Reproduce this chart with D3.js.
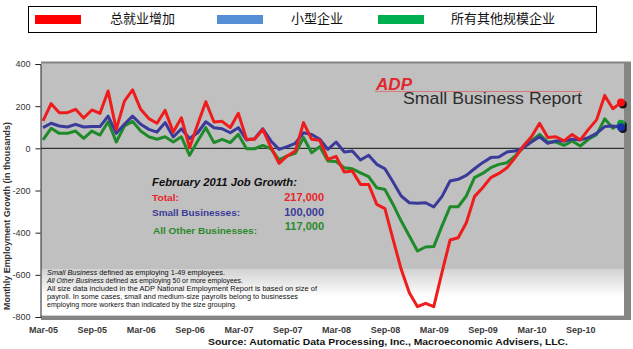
<!DOCTYPE html>
<html>
<head>
<meta charset="utf-8">
<script src="https://cdn.jsdelivr.net/npm/d3@7"></script>
<style>
  html, body { margin: 0; padding: 0; background: #fff; }
  svg { display: block; font-family: Arial, "Liberation Sans", sans-serif; }
</style>
</head>
<body>
<svg id="chart" width="633" height="349"></svg>
<script>
// Monthly employment change (thousands), Mar-2005 .. Feb-2011
const months = d3.range(72);
const totalGrowth = [130,212,169,169,185,144,182,166,272,90,224,277,185,141,119,180,77,145,3,114,221,125,128,98,166,43,43,90,5,-71,-36,-13,122,43,38,-52,-38,-112,-108,-171,-171,-266,-286,-432,-574,-685,-751,-735,-751,-590,-435,-424,-353,-229,-187,-139,-119,-92,-44,11,55,119,51,55,35,66,40,90,135,251,188,217];
const smallBiz = [98,119,106,101,114,101,103,103,153,71,114,153,114,90,77,122,54,93,47,74,126,98,93,74,98,40,46,93,35,-5,8,24,74,66,43,-5,30,-17,-13,-55,-33,-76,-97,-160,-226,-258,-261,-258,-278,-229,-155,-147,-128,-97,-68,-44,-41,-17,-13,3,30,55,24,35,35,43,40,51,71,103,106,100];
const otherBiz = [40,95,71,71,82,47,82,63,126,30,106,128,82,55,43,55,30,55,-33,35,98,27,43,27,66,-2,-2,14,-2,-55,-36,-24,51,-21,8,-60,-63,-92,-97,-116,-134,-187,-195,-266,-345,-416,-487,-468,-466,-369,-277,-277,-226,-139,-119,-92,-76,-68,-36,3,35,66,30,30,14,35,11,43,65,140,95,117];
const xTickIdx = [0,6,12,18,24,30,36,42,48,54,60,66];
const xTickLabels = ["Mar-05","Sep-05","Mar-06","Sep-06","Mar-07","Sep-07","Mar-08","Sep-08","Mar-09","Sep-09","Mar-10","Sep-10"];
const yTicks = [-800,-600,-400,-200,0,200,400];
const seriesNames = ["总就业增加","小型企业","所有其他规模企业"];
const headline = ["217,000","100,000","117,000"];

const svg = d3.select("#chart");
const x = d3.scaleLinear().domain([0, 71]).range([43, 621]);
const y = d3.scaleLinear().domain([-800, 400]).range([317, 64]);

// ---- legend box ----
const legend = svg.append("g");
legend.append("rect").attr("x", 28.5).attr("y", 6.5).attr("width", 568).attr("height", 26)
  .attr("fill", "#fff").attr("stroke", "#000").attr("stroke-width", 1);
const legSwatch = ["#ff0000", "#558ed5", "#00b050"];
const legX = [35, 217, 378];
const legTextX = [110, 291, 451];
seriesNames.forEach((n, i) => {
  legend.append("rect").attr("x", legX[i]).attr("y", 15).attr("width", 46).attr("height", 9).attr("fill", legSwatch[i]);
  legend.append("text").attr("x", legTextX[i]).attr("y", 19.5).attr("dominant-baseline", "middle")
    .attr("font-family", "'Noto Sans CJK SC', sans-serif").attr("font-size", 13).attr("fill", "#111").text(n);
});

// ---- plot frame ----
const defs = svg.append("defs");
const grad = defs.append("linearGradient").attr("id", "noteFade").attr("x1", 0).attr("y1", 0).attr("x2", 0).attr("y2", 1);
grad.append("stop").attr("offset", 0).attr("stop-color", "#d2d2d2");
grad.append("stop").attr("offset", 0.6).attr("stop-color", "#ffffff");
grad.append("stop").attr("offset", 1).attr("stop-color", "#ffffff");

svg.append("rect").attr("x", 41).attr("y", 61.5).attr("width", 590).attr("height", 258.5).attr("fill", "#858585");
svg.append("rect").attr("x", 41).attr("y", 63.5).attr("width", 583).attr("height", 252).attr("fill", "#c0c0c0");
svg.append("rect").attr("x", 41).attr("y", 269).attr("width", 583).attr("height", 46.5).attr("fill", "url(#noteFade)");

// zero line
svg.append("line").attr("x1", 41).attr("x2", 624).attr("y1", y(0)).attr("y2", y(0))
  .attr("stroke", "#111").attr("stroke-width", 1);

// ---- axis title (drawn first so tick labels sit on top) ----
svg.append("text").attr("transform", "translate(7.5,216) rotate(-90)").attr("text-anchor", "middle")
  .attr("dominant-baseline", "middle").attr("font-size", 8.5).attr("font-weight", "bold").attr("fill", "#333")
  .attr("textLength", 188).attr("lengthAdjust", "spacingAndGlyphs")
  .text("Monthly Employment Growth (in thousands)");

// ---- axes ----
const yAxis = svg.append("g").attr("transform", "translate(40.5,0)")
  .call(d3.axisLeft(y).tickValues(yTicks).tickSize(5).tickPadding(5).tickFormat(d => d < 0 ? "-" + Math.abs(d) : String(d)));
yAxis.select(".domain").attr("stroke", "#222");
yAxis.selectAll(".tick line").attr("stroke", "#222");
yAxis.selectAll("text").attr("font-size", 9).attr("fill", "#333").attr("font-family", "Arial, 'Liberation Sans', sans-serif");

const xAxis = svg.append("g").attr("transform", "translate(0,317)")
  .call(d3.axisBottom(x).tickValues(xTickIdx).tickSize(0).tickPadding(10)
    .tickFormat((d, i) => xTickLabels[i]));
xAxis.select(".domain").remove();
xAxis.selectAll("text").attr("font-size", 9).attr("font-weight", "bold").attr("fill", "#3a3a3a")
  .attr("font-family", "Arial, 'Liberation Sans', sans-serif");

svg.append("text").attr("x", 388).attr("y", 343).attr("text-anchor", "middle").attr("dominant-baseline", "middle")
  .attr("font-size", 9).attr("font-weight", "bold").attr("fill", "#111")
  .attr("textLength", 360).attr("lengthAdjust", "spacingAndGlyphs")
  .text("Source: Automatic Data Processing, Inc., Macroeconomic Advisers, LLC.");

// ---- logo ----
svg.append("text").attr("x", 376).attr("y", 90).attr("font-size", 16).attr("font-style", "italic")
  .attr("font-weight", "bold").attr("fill", "#e2262c").attr("textLength", 36).attr("lengthAdjust", "spacingAndGlyphs").text("ADP");
svg.append("line").attr("x1", 375).attr("x2", 582).attr("y1", 91.5).attr("y2", 91.5).attr("stroke", "#d97a7a").attr("stroke-width", 1);
svg.append("text").attr("x", 403).attr("y", 104).attr("font-size", 16).attr("fill", "#2e2e2e")
  .attr("textLength", 179).attr("lengthAdjust", "spacingAndGlyphs").text("Small Business Report");

// ---- footnote ----
const note = svg.append("g").attr("font-family", "'Liberation Sans Narrow', 'Arial Narrow', Arial, sans-serif")
  .attr("font-size", 7.2).attr("fill", "#111");
const noteLines = [
  {it: "Small Business", rest: " defined as employing 1-49 employees.", w: 178, y: 273},
  {it: "All Other Business", rest: " defined as employing 50 or more employees.", w: 196, y: 281},
  {it: "", rest: "All size data included in the ADP National Employment Report is based on size of", w: 270, y: 289},
  {it: "", rest: "payroll.  In some cases, small and medium-size payrolls belong to businesses", w: 251, y: 297},
  {it: "", rest: "employing more workers than indicated by the size grouping.", w: 190, y: 305}
];
noteLines.forEach(l => {
  const t = note.append("text").attr("x", 47).attr("y", l.y).attr("dominant-baseline", "middle")
    .attr("textLength", l.w).attr("lengthAdjust", "spacingAndGlyphs");
  if (l.it) t.append("tspan").attr("font-style", "italic").text(l.it);
  t.append("tspan").text(l.rest);
});

// ---- series lines ----
const lineColors = ["#ee1c1c", "#3a3a9a", "#1f8a2a"];
const allSeries = [totalGrowth, smallBiz, otherBiz];
const line = d3.line().x((d, i) => x(months[i])).y(d => y(d));
[otherBiz, smallBiz, totalGrowth].forEach(s => {
  const k = allSeries.indexOf(s);
  svg.append("path").datum(s).attr("d", line).attr("fill", "none")
    .attr("stroke", lineColors[k]).attr("stroke-width", 3).attr("stroke-linejoin", "round");
});

// end-of-series markers with a dark drop shadow
[2, 1, 0].forEach(k => {
  const s = allSeries[k];
  const cx = x(months[71]), cy = y(s[71]);
  svg.append("circle").attr("cx", cx + 1.8).attr("cy", cy + 1.8).attr("r", 4).attr("fill", "#111");
  svg.append("circle").attr("cx", cx).attr("cy", cy).attr("r", 4)
    .attr("fill", k === 1 ? "#1d2fa8" : (k === 0 ? "#ff1010" : "#13a03a"));
});

// ---- February summary box ----
const box = svg.append("g").attr("font-weight", "bold");
box.append("text").attr("x", 152).attr("y", 183).attr("dominant-baseline", "middle").attr("font-size", 11.5)
  .attr("font-style", "italic").attr("fill", "#111").attr("textLength", 145).attr("lengthAdjust", "spacingAndGlyphs")
  .text("February 2011 Job Growth:");
const boxLabels = ["Total:", "Small Businesses:", "All Other Businesses:"];
const boxColors = ["#e8242a", "#3b3b98", "#2a8a2a"];
const labelY = [198, 213, 231];
const valueY = [198, 213, 227];
const labelW = [27, 88, 104];
boxLabels.forEach((t, i) => {
  box.append("text").attr("x", i === 2 ? 153 : 152).attr("y", labelY[i]).attr("dominant-baseline", "middle")
    .attr("font-size", 9.5).attr("fill", boxColors[i]).attr("textLength", labelW[i]).attr("lengthAdjust", "spacingAndGlyphs").text(t);
  box.append("text").attr("x", 324).attr("y", valueY[i]).attr("text-anchor", "end").attr("dominant-baseline", "middle")
    .attr("font-size", 11).attr("fill", boxColors[i]).text(headline[i]);
});
</script>
</body>
</html>
